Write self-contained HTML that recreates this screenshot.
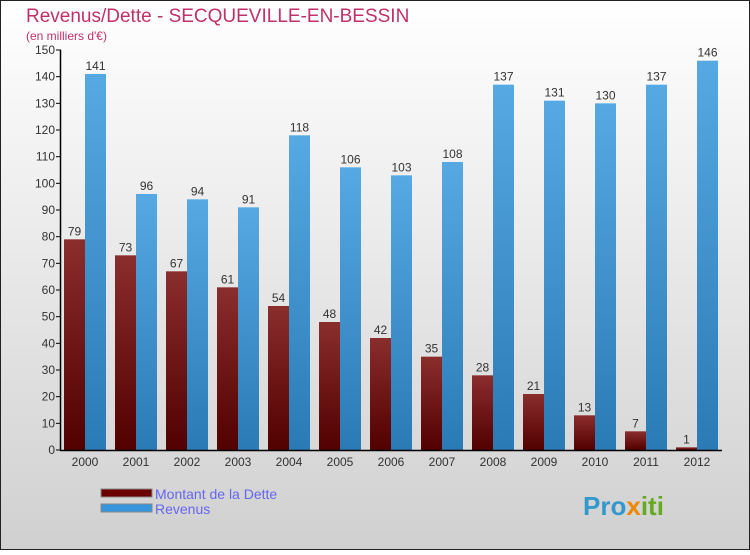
<!DOCTYPE html>
<html><head><meta charset="utf-8"><style>
html,body{margin:0;padding:0}
body{width:750px;height:550px;overflow:hidden;font-family:"Liberation Sans",sans-serif}
</style></head><body>
<svg id="chart" width="750" height="550" xmlns="http://www.w3.org/2000/svg">
<defs>
<linearGradient id="bg" x1="0" y1="0" x2="0" y2="1"><stop offset="0" stop-color="#ffffff"/><stop offset="1" stop-color="#d0d0d0"/></linearGradient>
<linearGradient id="gd" x1="0" y1="0" x2="0" y2="1"><stop offset="0" stop-color="#8a2d2d"/><stop offset="1" stop-color="#520000"/></linearGradient>
<linearGradient id="gr" x1="0" y1="0" x2="0" y2="1"><stop offset="0" stop-color="#56a9e3"/><stop offset="1" stop-color="#2a7ab5"/></linearGradient>
</defs>
<rect x="0.5" y="0.5" width="749" height="549" fill="url(#bg)" stroke="#222"/>
<text x="26" y="22" font-size="19" fill="#c0306a">Revenus/Dette - SECQUEVILLE-EN-BESSIN</text>
<text x="26" y="40" font-size="12" fill="#c0306a">(en milliers d'€)</text>
<g id="yaxis"></g>
<g id="bars"></g>
<line x1="60" y1="450.5" x2="722" y2="450.5" stroke="#000" stroke-width="1.5"/>
<line x1="60.5" y1="50" x2="60.5" y2="451" stroke="#000" stroke-width="1.5"/>
<g>
<rect x="101" y="489" width="51" height="8" fill="#6b0000" stroke="#888" stroke-width="1"/>
<text x="155" y="499" font-size="14" fill="#6666ee">Montant de la Dette</text>
<rect x="101" y="504" width="51" height="8" fill="#3595dd" stroke="#888" stroke-width="1"/>
<text x="155" y="514" font-size="14" fill="#6666ee">Revenus</text>
</g>
<text x="583" y="515" font-size="26" font-weight="bold" fill="#3399cc">Pro<tspan fill="#ee8800">x</tspan><tspan fill="#66aa22">iti</tspan></text>
</svg>
<script>
const years=["2000","2001","2002","2003","2004","2005","2006","2007","2008","2009","2010","2011","2012"];
const dette=[79,73,67,61,54,48,42,35,28,21,13,7,1];
const revenus=[141,96,94,91,118,106,103,108,137,131,130,137,146];
const yTicks=[0,10,20,30,40,50,60,70,80,90,100,110,120,130,140,150];
const NS="http://www.w3.org/2000/svg";
const y0=450,yTop=50,vmax=150;
function ys(v){return y0-v*(y0-yTop)/vmax;}
function xc(i){return 85+i*51;}
function mk(t,a,p){const e=document.createElementNS(NS,t);for(const k in a)e.setAttribute(k,a[k]);p.appendChild(e);return e;}
const ya=document.getElementById('yaxis');
yTicks.forEach(v=>{
 const l=mk('line',{x1:56,x2:61,y1:ys(v),y2:ys(v),stroke:'#000'},ya);
 
 
 const t=mk('text',{x:55,y:ys(v)+4,'font-size':12,'text-anchor':'end',fill:'#333'},ya);
 t.textContent=v;
 
 
});
const bg=document.getElementById('bars');
years.forEach((yr,i)=>{
 const c=xc(i);
 const b1=mk('rect',{x:c-21,y:ys(dette[i]),width:21,height:y0-ys(dette[i]),fill:'url(#gd)'},bg);
 
 
 const b2=mk('rect',{x:c,y:ys(revenus[i]),width:21,height:y0-ys(revenus[i]),fill:'url(#gr)'},bg);
 
 
 const t1=mk('text',{x:c-10.5,y:ys(dette[i])-4,'font-size':12,'text-anchor':'middle',fill:'#333'},bg);
 t1.textContent=dette[i];
 
 
 const t2=mk('text',{x:c+10.5,y:ys(revenus[i])-4,'font-size':12,'text-anchor':'middle',fill:'#333'},bg);
 t2.textContent=revenus[i];
 
 
 const tx=mk('text',{x:c,y:466,'font-size':12,'text-anchor':'middle',fill:'#333'},bg);
 tx.textContent=yr;
 
 
});
</script>
</body></html>
